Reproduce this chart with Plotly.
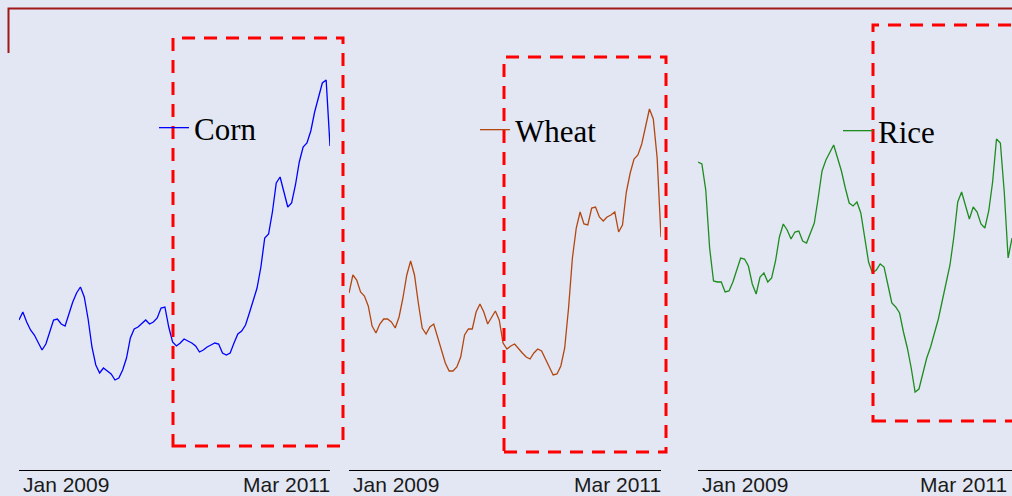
import plotly.graph_objects as go
import pandas as pd

# dates: one reading every 10 days, Jan 2009 - Mar 2011
dates = pd.date_range("2009-01-02", periods=82, freq="10D")

# price index values
corn = [150, 158, 148, 140, 135, 127, 120, 126, 139, 150, 151, 146, 144, 156, 168, 177,
        183, 173, 151, 123, 105, 97, 102, 99, 96, 90, 92, 100, 112, 132, 141, 143,
        147, 150, 146, 148, 152, 162, 163, 143, 128, 124, 127, 131, 129, 127, 124, 118,
        120, 123, 125, 127, 126, 117, 115, 117, 127, 136, 139, 145, 157, 169, 182, 203,
        232, 236, 258, 287, 293, 278, 263, 267, 285, 308, 323, 327, 339, 358, 374, 387,
        390, 324]

wheat = [177, 195, 190, 178, 174, 164, 144, 137, 146, 151, 151, 148, 142, 153, 172, 195,
         209, 195, 167, 142, 136, 143, 146, 133, 118, 107, 99, 99, 103, 113, 135, 141,
         141, 158, 166, 158, 146, 153, 159, 150, 127, 121, 124, 126, 121, 117, 113, 111,
         117, 121, 119, 111, 103, 95, 96, 104, 122, 162, 212, 242, 258, 246, 245, 262,
         263, 253, 249, 253, 255, 258, 238, 245, 278, 297, 311, 315, 326, 343, 361, 351,
         312, 233]

rice = [308, 306, 280, 222, 189, 188, 188, 178, 179, 188, 200, 212, 211, 204, 186, 176,
        193, 197, 188, 192, 209, 233, 246, 240, 231, 238, 239, 229, 227, 238, 247, 272,
        299, 310, 318, 325, 312, 299, 282, 267, 264, 268, 257, 231, 208, 197, 200, 206,
        203, 185, 167, 163, 157, 138, 122, 102, 78, 81, 97, 112, 123, 136, 151, 169,
        186, 205, 233, 268, 278, 264, 251, 263, 258, 246, 242, 259, 288, 331, 327, 278,
        212, 232]

names = ["Corn", "Wheat", "Rice"]
series = [corn, wheat, rice]
colors = ["#0000ff", "#b4460f", "#1e8c1e"]

W, H = 1012, 496
PLOT_H = 470  # plot area height (bottom margin 26)

def px(x):
    return x / W

def py(y):
    return (PLOT_H - y) / PLOT_H

domains = [[px(19), px(330)], [px(349), px(661)], [px(698), 1.0]]
legend_x = [px(154), px(475), px(838)]
legend_y = [py(128), py(130), py(131)]

fig = go.Figure()

for i in range(3):
    sfx = "" if i == 0 else str(i + 1)
    fig.add_trace(go.Scatter(
        x=dates, y=series[i], mode="lines", name=names[i],
        line=dict(color=colors[i], width=1.3),
        xaxis="x" + sfx, yaxis="y" + sfx,
        legend="legend" + sfx,
    ))
    fig.update_layout({
        "xaxis" + sfx: dict(domain=domains[i], range=[dates[0], dates[-1]],
                            showline=True, linecolor="black", linewidth=1,
                            showgrid=False, zeroline=False, showticklabels=False,
                            ticks="", anchor="y" + sfx),
        "yaxis" + sfx: dict(domain=[0, 1], range=[0, PLOT_H], visible=False,
                            anchor="x" + sfx),
        "legend" + sfx: dict(x=legend_x[i], y=legend_y[i], xanchor="left",
                             yanchor="middle", bgcolor="rgba(0,0,0,0)",
                             font=dict(family="Liberation Serif", size=31, color="black")),
    })
    # first/last date labels
    fig.add_annotation(x=dates[0], y=0, xref="x" + sfx, yref="paper", text="Jan 2009",
                       showarrow=False, xanchor="left", yanchor="top", xshift=2, yshift=-1,
                       font=dict(family="Liberation Sans", size=21, color="#1a1a1a"))
    fig.add_annotation(x=dates[-1], y=0, xref="x" + sfx, yref="paper", text="Mar 2011",
                       showarrow=False, xanchor="right", yanchor="top", yshift=-1,
                       xshift=-3 if i == 2 else 2,
                       font=dict(family="Liberation Sans", size=21, color="#1a1a1a"))

# dashed highlight boxes
boxes = [(173, 38, 343, 446), (504, 57, 666, 452), (873, 25, 1030, 421)]
for x0, y0, x1, y1 in boxes:
    fig.add_shape(type="rect", xref="paper", yref="paper",
                  x0=px(x0), x1=px(x1), y0=py(y1), y1=py(y0),
                  line=dict(color="#ff0000", width=3, dash="13px,9px"))

# dark red bracket at top left
fig.add_shape(type="path", xref="paper", yref="paper",
              path=f"M {px(8.5)},{py(53)} L {px(8.5)},{py(8.5)} L 1.02,{py(8.5)}",
              line=dict(color="#a01818", width=2))

fig.update_layout(
    width=W, height=H,
    margin=dict(l=0, r=0, t=0, b=H - PLOT_H),
    paper_bgcolor="#e2e7f3",
    plot_bgcolor="rgba(0,0,0,0)",
    showlegend=True,
)

# drop the page's default body margin so the figure fills the window
fig.write_html("out.html", config={"displayModeBar": False},
               post_script="document.body.style.margin='0';document.body.style.overflow='hidden';")
